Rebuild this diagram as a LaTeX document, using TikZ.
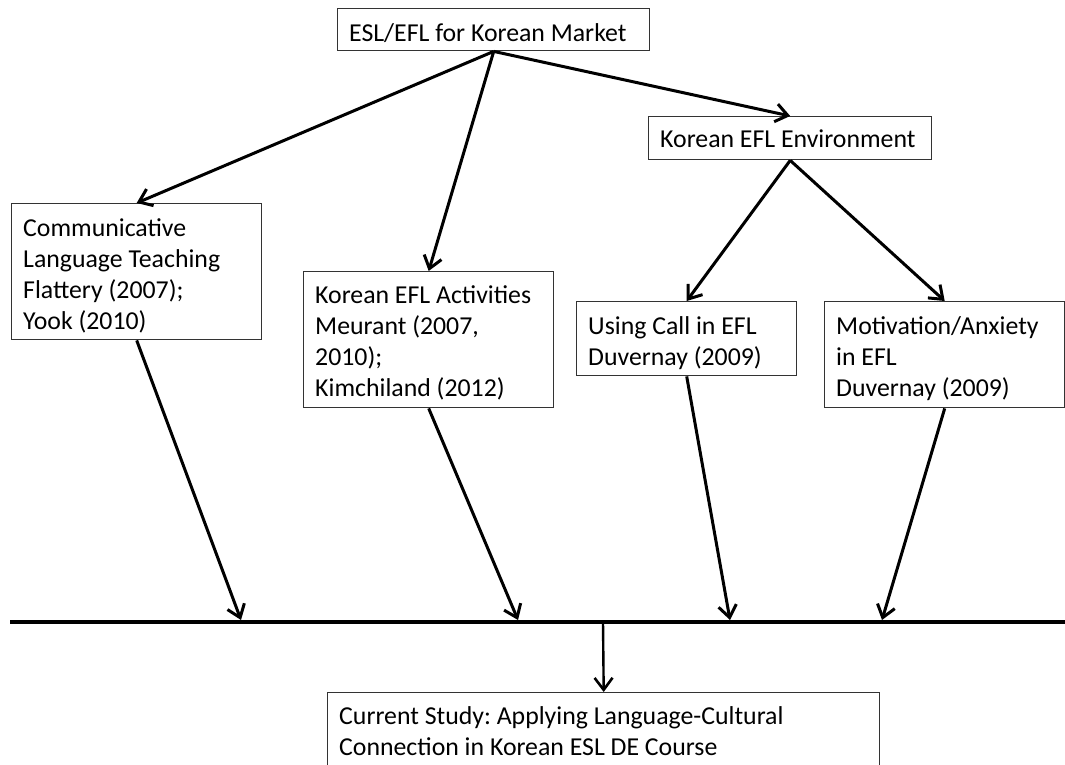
\documentclass[tikz,border=0pt]{standalone}
\usepackage{fontspec}
\setmainfont{Carlito}
\usetikzlibrary{arrows.meta}

% text block of a box: width, height, first baseline offset, lines
\newcommand{\boxlines}[4]{%
  \begin{minipage}[t][#2][t]{#1}%
    \fontsize{25.8pt}{31pt}\selectfont\frenchspacing
    \leftskip=11.5pt\rightskip=0pt plus 1fil\parindent=0pt
    \rule{0pt}{#3}#4%
  \end{minipage}}

\tikzset{
  box/.style={draw=black!80, line width=1.4pt, inner sep=0pt,
              anchor=north west, fill=white},
  flow/.style={line width=3pt,
               -{Straight Barb[length=12pt,width=18pt,line width=3pt]}},
  thinflow/.style={line width=2.4pt,
               -{Straight Barb[length=12pt,width=18pt,line width=2.6pt]}},
  bar/.style={line width=3.6pt},
}

\begin{document}
\begin{tikzpicture}[x=1pt,y=-1pt]
  \clip (0,0) rectangle (1065,765);
  \fill[white] (0,0) rectangle (1065,765);

  % boxes
  \node[box] (top)  at (337,8)   {\boxlines{312pt}{42pt}{33pt}{ESL/EFL for Korean Market}};
  \node[box] (env)  at (648,116) {\boxlines{283pt}{43pt}{31pt}{Korean EFL Environment}};
  \node[box] (comm) at (11,203)  {\boxlines{250pt}{136pt}{33pt}{Communicative\\Language Teaching\\Flattery (2007);\\Yook (2010)}};
  \node[box] (act)  at (303,271) {\boxlines{250pt}{136pt}{32pt}{Korean EFL Activities\\Meurant (2007,\\2010);\\Kimchiland (2012)}};
  \node[box] (call) at (576,301) {\boxlines{220pt}{74pt}{33pt}{Using Call in EFL\\Duvernay (2009)}};
  \node[box] (mot)  at (824,301) {\boxlines{240pt}{106pt}{33pt}{Motivation/Anxiety\\in EFL\\Duvernay (2009)}};
  \node[box] (cur)  at (327,692) {\boxlines{552pt}{90pt}{32pt}{Current Study: Applying Language-Cultural\\Connection in Korean ESL DE Course}};

  % collecting line
  \coordinate (bl) at (10,622);
  \coordinate (br) at (1065,622);
  \draw[bar] (bl) -- (br);
  \coordinate (t1) at (241,620);
  \coordinate (t2) at (518,620);
  \coordinate (t3) at (730,620);
  \coordinate (t4) at (882,620);
  \coordinate (j)  at (603,622);

  % connectors
  \draw[flow] (top.south) -- (comm.north);
  \draw[flow] (top.south) -- (act.north);
  \draw[flow] (top.south) -- (env.north);
  \draw[flow] (env.south) -- (call.north);
  \draw[flow] (env.south) -- (mot.north);
  \draw[flow] (comm.south) -- (t1);
  \draw[flow] (act.south) -- (t2);
  \draw[flow] (call.south) -- (t3);
  \draw[flow] (mot.south) -- (t4);
  \draw[thinflow] (j) -- (cur.north);
\end{tikzpicture}
\end{document}
